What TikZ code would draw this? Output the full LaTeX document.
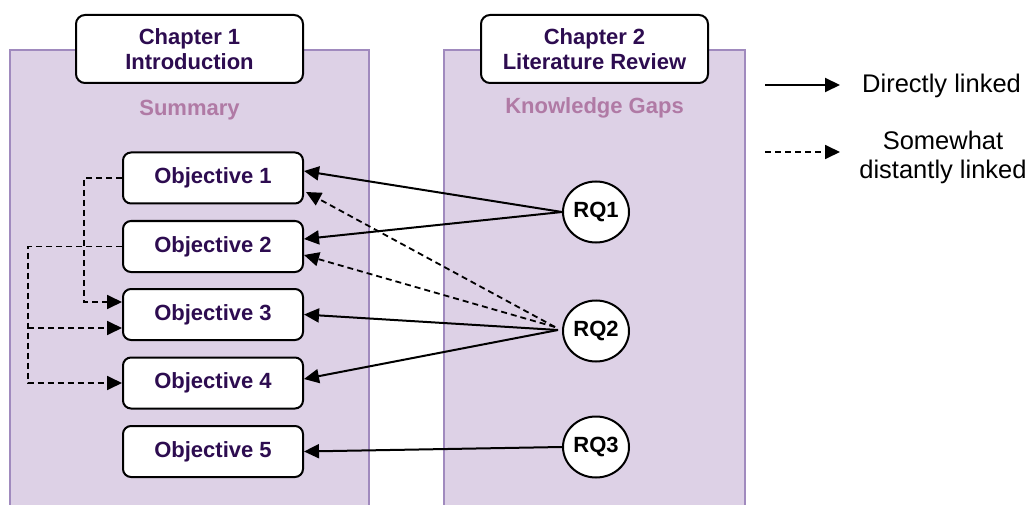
\documentclass[tikz,border=0pt]{standalone}
\usepackage{fontspec}
\setmainfont{Liberation Sans}
\usetikzlibrary{arrows.meta,shapes.geometric}
\definecolor{panelfill}{RGB}{221,209,230}
\definecolor{panelline}{RGB}{160,138,190}
\definecolor{deeppurple}{RGB}{45,12,80}
\definecolor{headpink}{RGB}{176,122,165}
\begin{document}
\begin{tikzpicture}[x=1pt,y=-1pt,
  panel/.style={fill=panelfill,draw=panelline,line width=2.2pt},
  chapbox/.style={draw=black,fill=white,rounded corners=9pt,line width=2pt,
    minimum width=227pt,minimum height=68pt,inner sep=0pt,align=center,
    font=\fontsize{22}{25}\selectfont\bfseries,text=deeppurple},
  objbox/.style={draw=black,fill=white,rounded corners=8pt,line width=2pt,
    minimum width=180pt,minimum height=51pt,inner sep=0pt,
    font=\fontsize{22}{25}\selectfont\bfseries,text=deeppurple},
  rqnode/.style={draw=black,fill=white,ellipse,line width=2pt,
    minimum width=66pt,minimum height=61pt,inner sep=0pt,
    font=\fontsize{22}{25}\selectfont\bfseries},
  heading/.style={inner sep=0pt,font=\fontsize{22}{25}\selectfont\bfseries,text=headpink},
  legendtext/.style={inner sep=0pt,align=center,font=\fontsize{25.5}{29}\selectfont},
  link/.style={line width=2pt,-{Triangle[length=15pt,width=14pt]}},
  weaklink/.style={link,line width=1.8pt,dash pattern=on 6pt off 4pt},
]
\useasboundingbox (0,0) rectangle (1033,505);

% chapter panels
\path[panel] (10,50) rectangle (369,515);
\path[panel] (444,50) rectangle (745,515);

% chapter headers
\node[chapbox] (ch1) at (189.5,49) {Chapter 1\\Introduction};
\node[chapbox] (ch2) at (594.5,49) {Chapter 2\\Literature Review};

\node[heading] (sum) at (189.5,110) {Summary};
\node[heading] (gaps) at (594.5,108) {Knowledge Gaps};

% objectives
\node[objbox] (o1) at (213,178)   {Objective 1};
\node[objbox] (o2) at (213,246.5) {Objective 2};
\node[objbox] (o3) at (213,314.5) {Objective 3};
\node[objbox] (o4) at (213,383)   {Objective 4};
\node[objbox] (o5) at (213,451.5) {Objective 5};

% research questions
\node[rqnode] (rq1) at (596,212) {RQ1};
\node[rqnode] (rq2) at (596,331) {RQ2};
\node[rqnode] (rq3) at (596,447) {RQ3};

% links between objectives
\coordinate (o3hi) at ([yshift=12.5pt]o3.west);
\coordinate (o3lo) at ([yshift=-13.5pt]o3.west);
\coordinate (loop1) at ([xshift=-38pt]o1.west);
\coordinate (trunk) at ([xshift=-94pt]o2.west);
\draw[weaklink] (o1.west) -- (loop1) |- (o3hi);
\draw[weaklink] (o2.west) -- (trunk) |- (o4.west);
\draw[weaklink] (trunk |- o3lo) -- (o3lo);

% links from research questions
\coordinate (rq2s) at ([xshift=-4pt,yshift=1pt]rq2.west);
\coordinate (rq2d) at ([xshift=-7pt,yshift=4pt]rq2.west);
\draw[link] (rq1.west) -- ([yshift=7pt]o1.east);
\draw[link] (rq1.west) -- ([yshift=7.5pt]o2.east);
\draw[weaklink] (rq2d) -- ([xshift=2pt,yshift=-14pt]o1.east);
\draw[weaklink] (rq2d) -- ([yshift=-8.5pt]o2.east);
\draw[link] (rq2s) -- (o3.east);
\draw[link] (rq2s) -- ([yshift=4pt]o4.east);
\draw[link] (rq3.west) -- (o5.east);

% legend
\coordinate (la) at (765,85);
\coordinate (lb) at (840,85);
\coordinate (lc) at (765,152);
\coordinate (ld) at (840,152);
\draw[link] (la) -- (lb);
\draw[weaklink] (lc) -- (ld);
\node[legendtext,anchor=west] (ltxt1) at (862,86) {Directly linked};
\node[legendtext] (ltxt2) at (943,157.5) {Somewhat\\distantly linked};
\end{tikzpicture}
\end{document}
